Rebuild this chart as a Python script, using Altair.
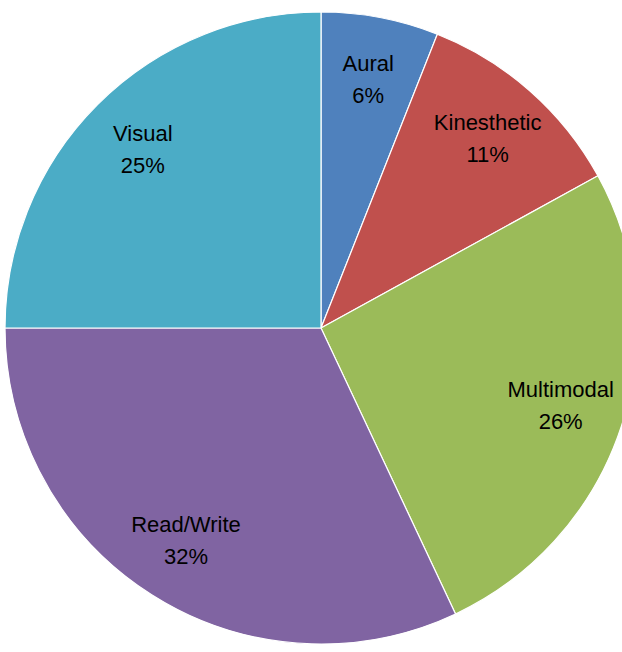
import altair as alt
import pandas as pd

categories = ["Aural", "Kinesthetic", "Multimodal", "Read/Write", "Visual"]
percents = [6, 11, 26, 32, 25]
colors = ["#4F81BD", "#C0504D", "#9BBB59", "#8064A2", "#4BACC6"]

df = pd.DataFrame({
    "category": categories,
    "pct": percents,
    "order": list(range(len(categories))),
})

base = alt.Chart(df).encode(
    theta=alt.Theta("pct:Q", stack=True),
    order=alt.Order("order:Q"),
    x=alt.value(321),
    y=alt.value(328),
)

pie = base.mark_arc(outerRadius=316, stroke="white", strokeWidth=1.2).encode(
    color=alt.Color("category:N", scale=alt.Scale(domain=categories, range=colors), legend=None),
)

labels = base.transform_calculate(
    label="datum.category + '\\n' + datum.pct + '%'"
).mark_text(
    radius=252, dy=-16, font="Liberation Sans", fontSize=22, lineBreak="\n", lineHeight=32,
    color="black", align="center", baseline="middle",
).encode(text="label:N")

chart = (pie + labels).properties(
    width=622, height=652, padding=0,
    autosize=alt.AutoSizeParams(type="none"),
).configure_view(stroke=None)

chart.save("out.html", embed_options={"renderer": "svg", "actions": False})
